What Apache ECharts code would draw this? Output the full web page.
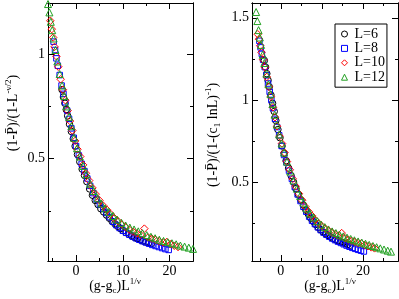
<!DOCTYPE html>
<html><head><meta charset="utf-8">
<script src="https://cdn.jsdelivr.net/npm/echarts@6/dist/echarts.min.js"></script>
<style>html,body{margin:0;padding:0;background:#fff}#c{width:399px;height:299px}</style>
</head><body><div id="c"></div>
<script>
const FONT = 'Liberation Serif';
const seriesNames = ['L=6', 'L=8', 'L=10', 'L=12'];
const xTicksMajor = [0, 10, 20];
const xTicksMinor = [-5, 5, 15, 25];
const leftYMajor = [0.5, 1];
const leftYMinor = [0.25, 0.75];
const rightYMajor = [0.5, 1, 1.5];
const rightYMinor = [0.25, 0.75, 1.25];

// Left panel: (1-P)/(1-L^{-nu/2}) vs (g-gc)L^{1/nu}
const left6 = [[-3.0,0.83],[-2.7,0.795],[-2.4,0.765],[-2.1,0.735],[-1.8,0.705],[-1.4,0.665],[-1.0,0.63],[-0.6,0.595],[-0.2,0.56],[0.3,0.52],[0.8,0.485],[1.3,0.45],[1.8,0.42],[2.3,0.39],[2.9,0.355],[3.5,0.325],[4.1,0.30],[4.7,0.28],[5.3,0.26],[5.9,0.245],[6.5,0.23],[7.1,0.215],[7.7,0.20],[8.3,0.188],[8.9,0.176],[9.5,0.165],[10.1,0.155],[10.7,0.146],[11.3,0.138],[11.9,0.13],[12.5,0.123],[13.1,0.117],[13.7,0.111],[14.3,0.106],[14.9,0.101],[15.5,0.097],[16.1,0.093]];
const left8 = [[-4.8,1.06],[-4.5,1.02],[-4.2,0.98],[-3.9,0.945],[-3.5,0.90],[-3.1,0.85],[-2.7,0.81],[-2.3,0.77],[-1.9,0.73],[-1.5,0.69],[-1.0,0.645],[-0.5,0.60],[0.0,0.56],[0.6,0.515],[1.2,0.475],[1.8,0.44],[2.4,0.405],[3.0,0.37],[3.7,0.335],[4.4,0.305],[5.1,0.28],[5.8,0.26],[6.5,0.24],[7.2,0.22],[7.9,0.198],[8.6,0.182],[9.3,0.168],[10.0,0.155],[10.7,0.145],[11.4,0.136],[12.1,0.127],[12.8,0.119],[13.5,0.112],[14.2,0.105],[14.9,0.099],[15.6,0.093],[16.3,0.087],[17.0,0.082],[17.7,0.077],[18.4,0.072],[19.1,0.067],[19.8,0.063]];
const left10 = [[-5.5,1.16],[-5.2,1.12],[-4.9,1.08],[-4.6,1.035],[-4.2,0.99],[-3.8,0.94],[-3.3,0.88],[-2.8,0.83],[-2.3,0.78],[-1.8,0.73],[-1.3,0.68],[-0.8,0.635],[-0.2,0.585],[0.3,0.545],[0.9,0.51],[1.5,0.47],[2.1,0.43],[2.8,0.395],[3.5,0.36],[4.2,0.33],[5.0,0.30],[5.8,0.275],[6.6,0.255],[7.4,0.235],[8.2,0.215],[9.0,0.20],[9.8,0.185],[10.6,0.172],[11.4,0.16],[12.2,0.15],[13.0,0.142],[13.8,0.135],[14.6,0.165],[15.4,0.123],[16.2,0.117],[17.0,0.111],[17.8,0.104],[18.6,0.099],[19.4,0.101],[20.2,0.09],[21.0,0.083],[21.8,0.077]];
const left12 = [[-6.0,1.24],[-5.7,1.20],[-5.4,1.155],[-5.1,1.115],[-4.8,1.075],[-4.4,1.02],[-4.0,0.965],[-3.5,0.905],[-3.0,0.85],[-2.5,0.80],[-2.0,0.75],[-1.5,0.70],[-1.0,0.655],[-0.4,0.60],[0.2,0.55],[0.8,0.51],[1.5,0.465],[2.2,0.425],[3.0,0.38],[3.8,0.345],[4.6,0.31],[5.4,0.285],[6.2,0.262],[7.0,0.245],[7.9,0.226],[8.8,0.208],[9.7,0.193],[10.6,0.18],[11.5,0.17],[12.4,0.161],[13.3,0.152],[14.2,0.143],[15.1,0.134],[16.0,0.126],[16.9,0.119],[17.8,0.112],[18.7,0.106],[19.6,0.10],[20.5,0.095],[21.4,0.09],[22.3,0.084],[23.2,0.079],[24.1,0.074],[25.0,0.068]];

// Right panel: (1-P)/(1-(c1 lnL)^{-1}) vs (g-gc)L^{1/nu}
const right6 = [[-4.0,1.24],[-3.7,1.20],[-3.4,1.16],[-3.1,1.12],[-2.8,1.08],[-2.4,1.03],[-2.0,0.98],[-1.6,0.93],[-1.2,0.875],[-0.7,0.82],[-0.2,0.77],[0.3,0.72],[0.8,0.675],[1.3,0.63],[1.9,0.585],[2.5,0.54],[3.1,0.50],[3.7,0.46],[4.3,0.425],[4.9,0.39],[5.5,0.36],[6.1,0.33],[6.7,0.305],[7.3,0.28],[7.9,0.26],[8.5,0.242],[9.1,0.225],[9.7,0.21],[10.3,0.197],[10.9,0.185],[11.5,0.175],[12.1,0.166],[12.7,0.158],[13.3,0.15],[13.9,0.143],[14.5,0.137],[15.1,0.131],[15.7,0.126],[16.3,0.121],[16.9,0.116]];
const right8 = [[-5.2,1.36],[-4.9,1.32],[-4.6,1.28],[-4.3,1.245],[-3.9,1.20],[-3.5,1.15],[-3.1,1.10],[-2.7,1.05],[-2.3,1.00],[-1.9,0.95],[-1.4,0.885],[-0.9,0.835],[-0.4,0.785],[0.2,0.72],[0.8,0.665],[1.4,0.62],[2.0,0.57],[2.7,0.52],[3.4,0.47],[4.1,0.425],[4.8,0.385],[5.5,0.35],[6.2,0.32],[6.9,0.29],[7.6,0.265],[8.3,0.245],[9.0,0.225],[9.7,0.208],[10.4,0.193],[11.1,0.18],[11.8,0.168],[12.5,0.157],[13.2,0.147],[13.9,0.138],[14.6,0.13],[15.3,0.122],[16.0,0.114],[16.7,0.107],[17.4,0.10],[18.1,0.094],[18.8,0.088],[19.5,0.083],[20.2,0.078]];
const right10 = [[-5.6,1.40],[-5.3,1.37],[-5.0,1.33],[-4.7,1.29],[-4.3,1.245],[-3.9,1.20],[-3.4,1.14],[-2.9,1.08],[-2.4,1.02],[-1.9,0.955],[-1.4,0.895],[-0.9,0.84],[-0.3,0.78],[0.3,0.735],[0.9,0.68],[1.5,0.625],[2.2,0.575],[2.9,0.52],[3.6,0.475],[4.4,0.43],[5.2,0.39],[6.0,0.35],[6.8,0.32],[7.6,0.295],[8.4,0.27],[9.2,0.25],[10.0,0.232],[10.8,0.218],[11.6,0.205],[12.4,0.194],[13.2,0.184],[14.0,0.175],[14.8,0.19],[15.6,0.158],[16.4,0.15],[17.2,0.143],[18.0,0.136],[18.8,0.129],[19.6,0.128],[20.4,0.116],[21.2,0.11],[22.0,0.103],[22.8,0.097]];
const right12 = [[-6.0,1.535],[-5.7,1.48],[-5.4,1.425],[-5.1,1.38],[-4.8,1.335],[-4.4,1.275],[-4.0,1.225],[-3.5,1.16],[-3.0,1.095],[-2.5,1.035],[-2.0,0.975],[-1.5,0.91],[-1.0,0.85],[-0.4,0.79],[0.2,0.735],[0.8,0.68],[1.5,0.625],[2.3,0.565],[3.1,0.51],[3.9,0.46],[4.7,0.415],[5.5,0.375],[6.3,0.34],[7.1,0.31],[8.0,0.285],[8.9,0.262],[9.8,0.242],[10.7,0.226],[11.6,0.212],[12.5,0.20],[13.4,0.19],[14.3,0.18],[15.2,0.17],[16.1,0.162],[17.0,0.154],[17.9,0.146],[18.8,0.139],[19.7,0.132],[20.6,0.125],[21.5,0.118],[22.4,0.111],[23.3,0.104],[24.2,0.097],[25.1,0.09],[26.0,0.083],[26.8,0.077]];

const styles = [
  {symbol:'circle', size:6.5, color:'#000000'},
  {symbol:'rect', size:5.5, color:'#0000ff'},
  {symbol:'diamond', size:7.5, color:'#ff0000'},
  {symbol:'triangle', size:7, color:'#22a022'}
];

function tickAxis(dim, g, pos, min, max, vals, len, labels) {
  return {
    gridIndex: g, type: 'value', min: min, max: max, position: pos,
    splitLine: {show: false},
    axisLine: {show: true, onZero: false, lineStyle: {color: '#000', width: 1}},
    axisTick: {show: true, inside: true, length: len, customValues: vals, lineStyle: {color: '#000', width: 1}},
    axisLabel: labels ? {show: true, customValues: vals, color: '#000', fontFamily: FONT, fontSize: 14, margin: 3} : {show: false}
  };
}

const xAxis = [];
const yAxis = [];
[[0, -6, 25], [1, -7, 28.5]].forEach(([g, mn, mx]) => {
  xAxis.push(tickAxis('x', g, 'bottom', mn, mx, xTicksMajor, 6, true));
  xAxis.push(tickAxis('x', g, 'bottom', mn, mx, xTicksMinor, 3, false));
  xAxis.push(tickAxis('x', g, 'top', mn, mx, xTicksMajor, 6, false));
  xAxis.push(tickAxis('x', g, 'top', mn, mx, xTicksMinor, 3, false));
});
[[0, 0.01, 1.245, leftYMajor, leftYMinor], [1, 0.02, 1.59, rightYMajor, rightYMinor]].forEach(([g, mn, mx, maj, mnr]) => {
  yAxis.push(tickAxis('y', g, 'left', mn, mx, maj, 6, true));
  yAxis.push(tickAxis('y', g, 'left', mn, mx, mnr, 3, false));
  yAxis.push(tickAxis('y', g, 'right', mn, mx, maj, 6, false));
  yAxis.push(tickAxis('y', g, 'right', mn, mx, mnr, 3, false));
});

const leftData = [left6, left8, left10, left12];
const rightData = [right6, right8, right10, right12];
const series = [];
[[0, leftData], [1, rightData]].forEach(([g, arr]) => {
  arr.forEach((d, i) => {
    const s = styles[i];
    series.push({
      type: 'scatter', name: seriesNames[i], xAxisIndex: g * 4, yAxisIndex: g * 4,
      data: d, symbol: s.symbol, symbolSize: s.size,
      itemStyle: {color: 'rgba(0,0,0,0)', borderColor: s.color, borderWidth: 1, opacity: 1},
      emphasis: {disabled: true}, silent: true
    });
  });
});

const legendData = seriesNames.map((n, i) => ({
  name: n, icon: styles[i].symbol,
  itemStyle: {color: 'rgba(0,0,0,0)', borderColor: styles[i].color, borderWidth: 1}
}));

const rich = {
  n: {fontSize: 14, fontFamily: FONT, lineHeight: 18, fill: '#000'},
  sup: {fontSize: 9, fontFamily: FONT, lineHeight: 9, verticalAlign: 'top', fill: '#000'},
  sub: {fontSize: 9, fontFamily: FONT, lineHeight: 9, verticalAlign: 'bottom', fill: '#000'}
};
function title(x, y, rot, text) {
  return {type: 'text', x: x, y: y, rotation: rot, silent: true,
    style: {text: text, rich: rich, align: 'center', verticalAlign: 'middle', fill: '#000', font: '14px ' + FONT}};
}

const chart = echarts.init(document.getElementById('c'), null, {renderer: 'canvas'});
chart.setOption({
  animation: false,
  backgroundColor: '#fff',
  grid: [
    {left: 48, top: 3, width: 145, height: 258},
    {left: 252, top: 3, width: 146, height: 258}
  ],
  xAxis: xAxis,
  yAxis: yAxis,
  legend: {
    data: legendData, orient: 'vertical', left: 335, top: 24,
    borderColor: '#000', borderWidth: 1, borderRadius: 0,
    padding: [3, 2, 3, 6], itemGap: 0.4, itemWidth: 6, itemHeight: 6,
    symbolKeepAspect: true,
    textStyle: {fontFamily: FONT, fontSize: 14, color: '#000', lineHeight: 12, padding: [0, 0, 0, 2]},
    selectedMode: false
  },
  series: series,
  graphic: [
    title(13, 113, Math.PI / 2, '{n|(1-P\u0304)/(1-L}{sup|-\u03bd/2}{n|)}'),
    title(213, 135, Math.PI / 2, '{n|(1-P\u0304)/(1-(c}{sub|1}{n| lnL)}{sup|-1}{n|)}'),
    title(115, 286, 0, '{n|(g-g}{sub|c}{n|)L}{sup|1/\u03bd}'),
    title(330, 286, 0, '{n|(g-g}{sub|c}{n|)L}{sup|1/\u03bd}')
  ]
});
</script></body></html>
